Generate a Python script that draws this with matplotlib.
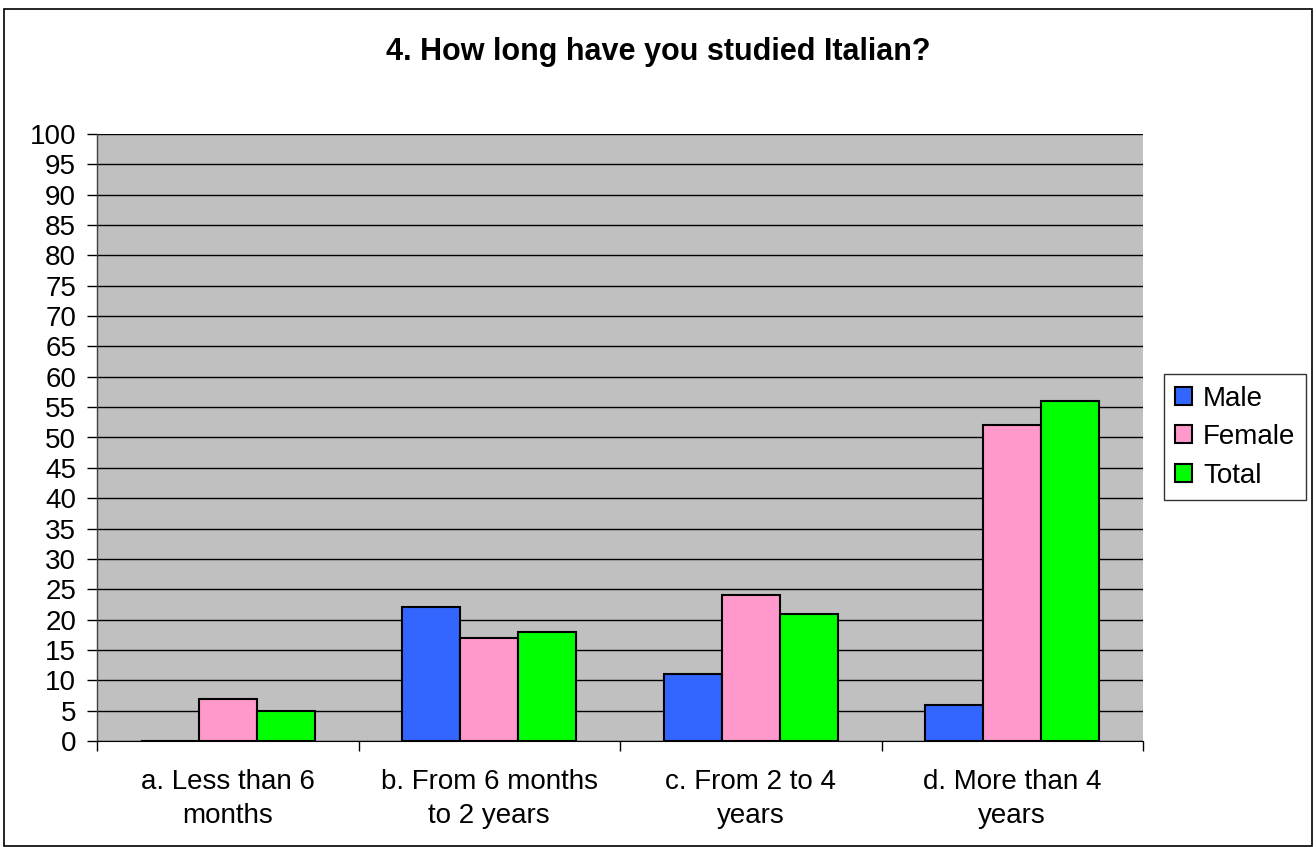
import matplotlib
matplotlib.use("Agg")
import matplotlib.pyplot as plt
import numpy as np
from matplotlib.patches import Rectangle

categories = ["a. Less than 6\nmonths", "b. From 6 months\nto 2 years", "c. From 2 to 4\nyears", "d. More than 4\nyears"]
male = [0, 22, 11, 6]
female = [7, 17, 24, 52]
total = [5, 18, 21, 56]
series_names = ["Male", "Female", "Total"]
colors = ["#3366FF", "#FF99CC", "#00FF00"]
yticks = list(range(0, 101, 5))

plt.rcParams['font.family'] = ['Liberation Sans', 'DejaVu Sans']

fig = plt.figure(figsize=(13.16, 8.47), dpi=100)
W, H = 1316, 847
ax = fig.add_axes([97 / W, 1 - 741 / H, (1143 - 97) / W, (741 - 134) / H])
ax.set_facecolor("#C0C0C0")

x = np.arange(len(categories))
bw = 0.222
for i, (vals, name, c) in enumerate(zip([male, female, total], series_names, colors)):
    ax.bar(x + (i - 1) * bw, vals, bw, color=c, edgecolor="black", linewidth=1.5, label=name, zorder=3)

ax.set_xlim(-0.5, len(categories) - 0.5)
ax.set_ylim(0, 100)
ax.set_yticks(yticks)
ax.yaxis.grid(True, color="black", linewidth=1, zorder=1)
ax.set_axisbelow(True)
ax.tick_params(axis="y", direction="out", length=7, width=1, labelsize=20, pad=8)
ax.set_xticks(np.arange(len(categories) + 1) - 0.5, minor=False)
ax.set_xticklabels([])
ax.set_xticks(x, minor=True)
ax.set_xticklabels(categories, minor=True, fontsize=20, linespacing=1.4)
ax.tick_params(axis="x", which="major", direction="out", length=7, width=1)
ax.tick_params(axis="x", which="minor", length=0, pad=20)
for s in ["top", "right"]:
    ax.spines[s].set_visible(False)
ax.spines["left"].set_color("#404040")
ax.spines["bottom"].set_color("black")
ax.spines["left"].set_linewidth(1)

fig.text(658 / W, 1 - 52 / H, "4. How long have you studied Italian?", ha="center", va="center",
         fontsize=22, fontweight="bold")

leg = fig.legend(loc="center left", bbox_to_anchor=(1164 / W, 1 - 437 / H), fontsize=20,
                 frameon=True, fancybox=False, edgecolor="black", handlelength=0.6, handleheight=0.6,
                 handletextpad=0.4, labelspacing=0.45, borderpad=0.4, borderaxespad=0)
leg.get_frame().set_linewidth(1)

fig.patches.append(Rectangle((4 / W, 1 / H), 1308 / W, 1 - 10 / H, transform=fig.transFigure,
                             fill=False, edgecolor="black", linewidth=1.2))

fig.savefig("out.png", dpi=100)
